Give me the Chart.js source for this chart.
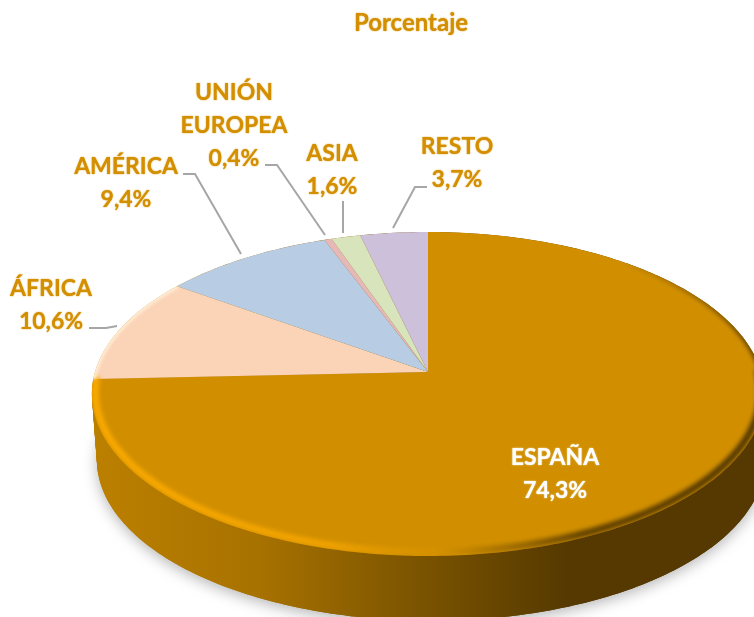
<!DOCTYPE html>
<html>
<head>
<meta charset="utf-8">
<script src="https://cdn.jsdelivr.net/npm/chart.js@4"></script>
<style>
  html, body { margin: 0; background: #fff; }
  canvas { display: block; }
</style>
</head>
<body>
<canvas id="myChart" width="754" height="617"></canvas>
<script>
const titleText = 'Porcentaje';
const categories = ['ESPAÑA', 'ÁFRICA', 'AMÉRICA', 'UNIÓN EUROPEA', 'ASIA', 'RESTO'];
const percentages = [74.3, 10.6, 9.4, 0.4, 1.6, 3.7];
const sliceColors = ['#D18F00', '#FBD4B8', '#B8CCE4', '#E6B9B8', '#D8E4BC', '#CCC0DA'];

// where each label and its leader line sits, same order as categories
const labelPlaces = [
  { x: 555, y: 465, color: '#FFFFFF', leader: [] },
  { x: 51, y: 296, leader: [[89, 328], [106, 328], [117, 326]] },
  { x: 126, y: 174, leader: [[183, 174], [195, 174], [241, 254]] },
  { x: 234, y: 100, leader: [[265, 165], [277, 165], [325, 235]] },
  { x: 332, y: 161, leader: [[343, 201], [343, 233]] },
  { x: 457, y: 154, leader: [[427, 187], [415, 187], [393, 228]] }
];

const orange = '#D38F00';
const lineHeight = 33;

// the disc is seen in perspective, so the hub is not the middle of the ellipse
const persp = { k: 0.1358, rx: 333, ry: 159 };

function project(arc, angle) {
  const u = Math.cos(angle);
  const v = Math.sin(angle);
  const w = 1 - persp.k * v;
  return [arc.x + persp.rx * u / w, arc.y + persp.ry * v / w];
}

function traceRim(ctx, arc, from, to, dx, dy, scale) {
  const steps = Math.max(2, Math.ceil(Math.abs(to - from) * 60));
  for (let i = 0; i <= steps; i++) {
    const p = project(arc, from + (to - from) * i / steps);
    ctx.lineTo(arc.x + (p[0] - arc.x) * scale + dx, arc.y + (p[1] - arc.y) * scale + dy);
  }
}

const pie3d = {
  id: 'pie3d',
  beforeDatasetsDraw(chart) {
    const ctx = chart.ctx;
    const arcs = chart.getDatasetMeta(0).data;
    const hub = arcs[0];
    const full = Math.PI * 2;

    // side wall
    const wall = ctx.createLinearGradient(92, 0, 754, 0);
    wall.addColorStop(0, '#BC8000');
    wall.addColorStop(0.25, '#A87200');
    wall.addColorStop(0.5, '#7A5300');
    wall.addColorStop(0.72, '#553900');
    wall.addColorStop(1, '#553900');
    ctx.save();
    ctx.shadowColor = 'rgba(0,0,0,0.28)';
    ctx.shadowBlur = 14;
    ctx.shadowOffsetY = 4;
    ctx.fillStyle = wall;
    ctx.beginPath();
    traceRim(ctx, hub, 0, full, 3, 66, 0.994);
    ctx.closePath();
    ctx.fill();
    ctx.restore();
    ctx.fillStyle = wall;
    for (let s = 0; s <= 66; s += 2) {
      ctx.beginPath();
      traceRim(ctx, hub, 0, full, 3 * s / 66, s, 1 - 0.006 * s / 66);
      ctx.closePath();
      ctx.fill();
    }

    // top face
    arcs.forEach((arc, i) => {
      ctx.beginPath();
      ctx.moveTo(arc.x, arc.y);
      traceRim(ctx, arc, arc.startAngle, arc.endAngle, 0, 0, 1);
      ctx.closePath();
      ctx.fillStyle = sliceColors[i];
      ctx.fill();
    });

    // soft bevel along the rim of the big slice
    const bevel = ctx.createLinearGradient(92, 0, 754, 0);
    bevel.addColorStop(0, 'rgba(250,170,0,1)');
    bevel.addColorStop(0.36, 'rgba(246,166,0,0.85)');
    bevel.addColorStop(0.52, 'rgba(226,152,0,0.25)');
    bevel.addColorStop(0.6, 'rgba(110,74,0,0.35)');
    bevel.addColorStop(0.74, 'rgba(85,57,0,0.9)');
    bevel.addColorStop(1, 'rgba(85,57,0,1)');
    const upperEdge = ctx.createLinearGradient(620, 0, 754, 0);
    upperEdge.addColorStop(0, 'rgba(85,57,0,0)');
    upperEdge.addColorStop(1, 'rgba(85,57,0,1)');

    ctx.save();
    ctx.beginPath();
    traceRim(ctx, hub, 0, full, 0, 0, 1);
    ctx.closePath();
    ctx.clip();
    ctx.filter = 'blur(2px)';
    ctx.strokeStyle = upperEdge;
    ctx.lineWidth = 4;
    ctx.beginPath();
    traceRim(ctx, hub, hub.startAngle, 0, 0, 0, 1);
    ctx.stroke();
    ctx.strokeStyle = bevel;
    ctx.lineWidth = 7;
    ctx.beginPath();
    traceRim(ctx, hub, 0, hub.endAngle, 0, -2, 0.99);
    ctx.stroke();
    ctx.filter = 'blur(1.5px)';
    ctx.strokeStyle = 'rgba(255,240,215,0.9)';
    ctx.lineWidth = 5;
    ctx.beginPath();
    traceRim(ctx, arcs[1], arcs[1].startAngle, arcs[1].endAngle, 0, 0, 1);
    ctx.stroke();
    ctx.restore();
    return false;
  },
  afterDraw(chart) {
    const ctx = chart.ctx;
    ctx.save();
    ctx.textAlign = 'center';
    ctx.textBaseline = 'alphabetic';
    ctx.shadowBlur = 1.5;
    ctx.font = 'bold 24px Lato, sans-serif';
    ctx.fillStyle = orange;
    ctx.shadowColor = orange;
    ctx.fillText(titleText, 411, 31);

    ctx.font = 'bold 23px Lato, sans-serif';
    categories.forEach((name, i) => {
      const place = labelPlaces[i];
      const lines = name.split(' ').concat(percentages[i].toFixed(1).replace('.', ',') + '%');
      ctx.fillStyle = place.color || orange;
      ctx.shadowColor = ctx.fillStyle;
      lines.forEach((line, n) => ctx.fillText(line, place.x, place.y + n * lineHeight));
    });

    ctx.shadowColor = 'transparent';
    ctx.strokeStyle = '#A6A6A6';
    ctx.lineWidth = 2;
    labelPlaces.forEach(place => {
      ctx.beginPath();
      place.leader.forEach(p => ctx.lineTo(p[0], p[1]));
      ctx.stroke();
    });
    ctx.restore();
  }
};

new Chart(document.getElementById('myChart'), {
  type: 'pie',
  data: {
    labels: categories,
    datasets: [{ label: titleText, data: percentages, backgroundColor: sliceColors, borderWidth: 0 }]
  },
  options: {
    responsive: false,
    animation: false,
    radius: 240,
    layout: { padding: { left: 102, top: 127 } },
    plugins: { legend: { display: false }, tooltip: { enabled: false } }
  },
  plugins: [pie3d]
});
</script>
</body>
</html>
